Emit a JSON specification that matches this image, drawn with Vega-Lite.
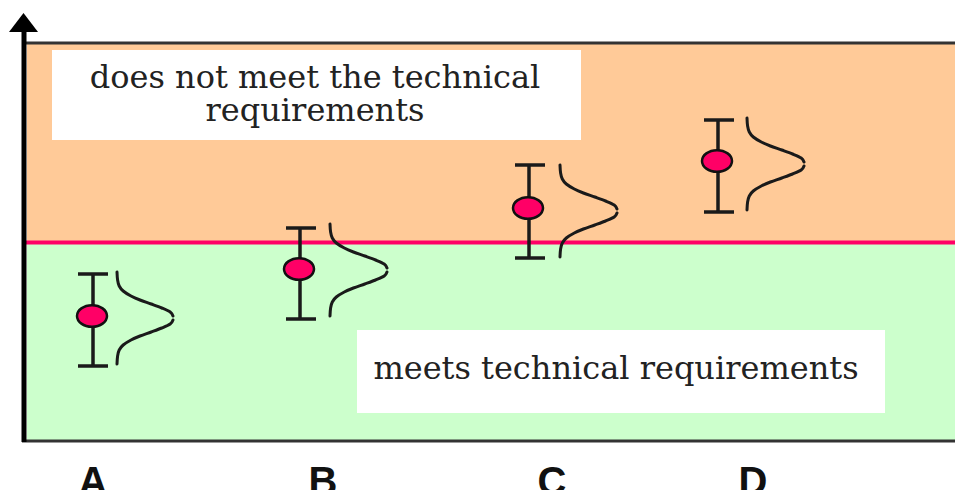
{
  "$schema": "https://vega.github.io/schema/vega-lite/v6.json",
  "width": 955,
  "height": 490,
  "padding": 0,
  "autosize": {"type": "none"},
  "background": "white",
  "config": {"view": {"stroke": null}},
  "datasets": {
    "regions": [
      {"zone": "does not meet", "x": 27, "x2": 955, "y": 44, "y2": 242},
      {"zone": "meets", "x": 27, "x2": 955, "y": 242, "y2": 440}
    ],
    "threshold": [{"x": 26, "x2": 955, "y": 242.5}],
    "borders": [
      {"x": 24, "x2": 955, "y": 43},
      {"x": 22, "x2": 955, "y": 441}
    ],
    "axisline": [{"x": 24, "y": 442, "y2": 28}],
    "arrow": [{"x": 23.5, "y": 22.5}],
    "boxes": [
      {"x": 52, "x2": 581, "y": 50, "y2": 140},
      {"x": 357, "x2": 885, "y": 330, "y2": 413}
    ],
    "texts": [
      {"x": 315, "y": 88, "text": "does not meet the technical"},
      {"x": 315, "y": 121, "text": "requirements"},
      {"x": 616, "y": 379, "text": "meets technical requirements"}
    ],
    "stems": [
      {"item": "A", "x": 93, "y": 274, "y2": 366},
      {"item": "B", "x": 300, "y": 228, "y2": 319},
      {"item": "C", "x": 529, "y": 165, "y2": 258},
      {"item": "D", "x": 718, "y": 120, "y2": 212}
    ],
    "caps": [
      {"item": "A", "x": 78, "x2": 108, "y": 274},
      {"item": "A", "x": 78, "x2": 108, "y": 366},
      {"item": "B", "x": 286, "x2": 316, "y": 228},
      {"item": "B", "x": 286, "x2": 316, "y": 319},
      {"item": "C", "x": 515, "x2": 545, "y": 165},
      {"item": "C", "x": 515, "x2": 545, "y": 258},
      {"item": "D", "x": 704, "x2": 734, "y": 120},
      {"item": "D", "x": 704, "x2": 734, "y": 212}
    ],
    "points": [
      {"item": "A", "x": 92, "y": 316},
      {"item": "B", "x": 299, "y": 269},
      {"item": "C", "x": 528, "y": 208},
      {"item": "D", "x": 717, "y": 161}
    ],
    "curves": [
      {"seg": "A1", "i": 0, "x": 117, "y": 272},
      {"seg": "A1", "i": 1, "x": 117.6, "y": 280},
      {"seg": "A1", "i": 2, "x": 119.2, "y": 286},
      {"seg": "A1", "i": 3, "x": 123.2, "y": 291},
      {"seg": "A1", "i": 4, "x": 131, "y": 296},
      {"seg": "A1", "i": 5, "x": 140, "y": 300},
      {"seg": "A1", "i": 6, "x": 151.2, "y": 304},
      {"seg": "A1", "i": 7, "x": 161.8, "y": 308},
      {"seg": "A1", "i": 8, "x": 170.2, "y": 312},
      {"seg": "A1", "i": 9, "x": 173, "y": 316},
      {"seg": "A2", "i": 0, "x": 173, "y": 320},
      {"seg": "A2", "i": 1, "x": 170.2, "y": 324},
      {"seg": "A2", "i": 2, "x": 161.8, "y": 328},
      {"seg": "A2", "i": 3, "x": 151.2, "y": 332},
      {"seg": "A2", "i": 4, "x": 140, "y": 336},
      {"seg": "A2", "i": 5, "x": 131, "y": 340},
      {"seg": "A2", "i": 6, "x": 123.2, "y": 345},
      {"seg": "A2", "i": 7, "x": 119.2, "y": 350},
      {"seg": "A2", "i": 8, "x": 117.6, "y": 356},
      {"seg": "A2", "i": 9, "x": 117, "y": 364},
      {"seg": "B1", "i": 0, "x": 330, "y": 224},
      {"seg": "B1", "i": 1, "x": 330.6, "y": 232},
      {"seg": "B1", "i": 2, "x": 332.3, "y": 238},
      {"seg": "B1", "i": 3, "x": 336.3, "y": 243},
      {"seg": "B1", "i": 4, "x": 344.3, "y": 248},
      {"seg": "B1", "i": 5, "x": 353.4, "y": 252},
      {"seg": "B1", "i": 6, "x": 364.8, "y": 256},
      {"seg": "B1", "i": 7, "x": 375.6, "y": 260},
      {"seg": "B1", "i": 8, "x": 384.2, "y": 264},
      {"seg": "B1", "i": 9, "x": 387, "y": 268},
      {"seg": "B2", "i": 0, "x": 387, "y": 272},
      {"seg": "B2", "i": 1, "x": 384.2, "y": 276},
      {"seg": "B2", "i": 2, "x": 375.6, "y": 280},
      {"seg": "B2", "i": 3, "x": 364.8, "y": 284},
      {"seg": "B2", "i": 4, "x": 353.4, "y": 288},
      {"seg": "B2", "i": 5, "x": 344.3, "y": 292},
      {"seg": "B2", "i": 6, "x": 336.3, "y": 297},
      {"seg": "B2", "i": 7, "x": 332.3, "y": 302},
      {"seg": "B2", "i": 8, "x": 330.6, "y": 308},
      {"seg": "B2", "i": 9, "x": 330, "y": 316},
      {"seg": "C1", "i": 0, "x": 560, "y": 165},
      {"seg": "C1", "i": 1, "x": 560.6, "y": 173},
      {"seg": "C1", "i": 2, "x": 562.3, "y": 179},
      {"seg": "C1", "i": 3, "x": 566.3, "y": 184},
      {"seg": "C1", "i": 4, "x": 574.3, "y": 189},
      {"seg": "C1", "i": 5, "x": 583.4, "y": 193},
      {"seg": "C1", "i": 6, "x": 594.8, "y": 197},
      {"seg": "C1", "i": 7, "x": 605.6, "y": 201},
      {"seg": "C1", "i": 8, "x": 614.2, "y": 205},
      {"seg": "C1", "i": 9, "x": 617, "y": 209},
      {"seg": "C2", "i": 0, "x": 617, "y": 213},
      {"seg": "C2", "i": 1, "x": 614.2, "y": 217},
      {"seg": "C2", "i": 2, "x": 605.6, "y": 221},
      {"seg": "C2", "i": 3, "x": 594.8, "y": 225},
      {"seg": "C2", "i": 4, "x": 583.4, "y": 229},
      {"seg": "C2", "i": 5, "x": 574.3, "y": 233},
      {"seg": "C2", "i": 6, "x": 566.3, "y": 238},
      {"seg": "C2", "i": 7, "x": 562.3, "y": 243},
      {"seg": "C2", "i": 8, "x": 560.6, "y": 249},
      {"seg": "C2", "i": 9, "x": 560, "y": 257},
      {"seg": "D1", "i": 0, "x": 747, "y": 118},
      {"seg": "D1", "i": 1, "x": 747.6, "y": 126},
      {"seg": "D1", "i": 2, "x": 749.3, "y": 132},
      {"seg": "D1", "i": 3, "x": 753.3, "y": 137},
      {"seg": "D1", "i": 4, "x": 761.3, "y": 142},
      {"seg": "D1", "i": 5, "x": 770.4, "y": 146},
      {"seg": "D1", "i": 6, "x": 781.8, "y": 150},
      {"seg": "D1", "i": 7, "x": 792.6, "y": 154},
      {"seg": "D1", "i": 8, "x": 801.2, "y": 158},
      {"seg": "D1", "i": 9, "x": 804, "y": 162},
      {"seg": "D2", "i": 0, "x": 804, "y": 166},
      {"seg": "D2", "i": 1, "x": 801.2, "y": 170},
      {"seg": "D2", "i": 2, "x": 792.6, "y": 174},
      {"seg": "D2", "i": 3, "x": 781.8, "y": 178},
      {"seg": "D2", "i": 4, "x": 770.4, "y": 182},
      {"seg": "D2", "i": 5, "x": 761.3, "y": 186},
      {"seg": "D2", "i": 6, "x": 753.3, "y": 191},
      {"seg": "D2", "i": 7, "x": 749.3, "y": 196},
      {"seg": "D2", "i": 8, "x": 747.6, "y": 202},
      {"seg": "D2", "i": 9, "x": 747, "y": 210}
    ],
    "labels": [
      {"x": 93, "y": 495, "text": "A"},
      {"x": 323, "y": 495, "text": "B"},
      {"x": 552, "y": 495, "text": "C"},
      {"x": 753, "y": 495, "text": "D"}
    ]
  },
  "encoding": {
    "x": {"field": "x", "type": "quantitative", "scale": {"domain": [0, 955], "nice": false, "zero": false}, "axis": null},
    "y": {"field": "y", "type": "quantitative", "scale": {"domain": [0, 490], "reverse": true, "nice": false, "zero": false}, "axis": null}
  },
  "layer": [
    {
      "data": {"name": "regions"},
      "mark": {"type": "rect"},
      "encoding": {
        "x2": {"field": "x2"},
        "y2": {"field": "y2"},
        "color": {"field": "zone", "type": "nominal", "scale": {"domain": ["does not meet", "meets"], "range": ["#FFCA98", "#CCFFCC"]}, "legend": null}
      }
    },
    {
      "data": {"name": "threshold"},
      "mark": {"type": "rule", "color": "#FF0066", "strokeWidth": 4},
      "encoding": {"x2": {"field": "x2"}}
    },
    {
      "data": {"name": "borders"},
      "mark": {"type": "rule", "color": "#333333", "strokeWidth": 3},
      "encoding": {"x2": {"field": "x2"}}
    },
    {
      "data": {"name": "axisline"},
      "mark": {"type": "rule", "color": "#000000", "strokeWidth": 5},
      "encoding": {"y2": {"field": "y2"}}
    },
    {
      "data": {"name": "arrow"},
      "mark": {"type": "point", "shape": "M 0 -0.66 L 1 0.66 L -1 0.66 Z", "size": 841, "filled": true, "color": "#000000", "opacity": 1}
    },
    {
      "data": {"name": "boxes"},
      "mark": {"type": "rect", "color": "#FFFFFF"},
      "encoding": {"x2": {"field": "x2"}, "y2": {"field": "y2"}}
    },
    {
      "data": {"name": "texts"},
      "mark": {"type": "text", "font": "DejaVu Serif", "fontSize": 32, "align": "center", "baseline": "alphabetic", "color": "#222222"},
      "encoding": {"text": {"field": "text"}}
    },
    {
      "data": {"name": "stems"},
      "mark": {"type": "rule", "color": "#1a1a1a", "strokeWidth": 3.5},
      "encoding": {"y2": {"field": "y2"}}
    },
    {
      "data": {"name": "caps"},
      "mark": {"type": "rule", "color": "#1a1a1a", "strokeWidth": 3.5},
      "encoding": {"x2": {"field": "x2"}}
    },
    {
      "data": {"name": "curves"},
      "mark": {"type": "line", "color": "#1a1a1a", "strokeWidth": 3, "interpolate": "cardinal", "strokeCap": "round"},
      "encoding": {
        "detail": {"field": "seg"},
        "order": {"field": "i", "type": "quantitative"}
      }
    },
    {
      "data": {"name": "points"},
      "mark": {"type": "point", "shape": "M -1 0 A 1 0.72 0 1 1 1 0 A 1 0.72 0 1 1 -1 0 Z", "size": 900, "filled": true, "fill": "#FF0066", "stroke": "#111111", "strokeWidth": 2.5, "opacity": 1}
    },
    {
      "data": {"name": "labels"},
      "mark": {"type": "text", "font": "Liberation Sans", "fontWeight": "bold", "fontSize": 40, "align": "center", "baseline": "alphabetic", "color": "#111111"},
      "encoding": {"text": {"field": "text"}}
    }
  ]
}
